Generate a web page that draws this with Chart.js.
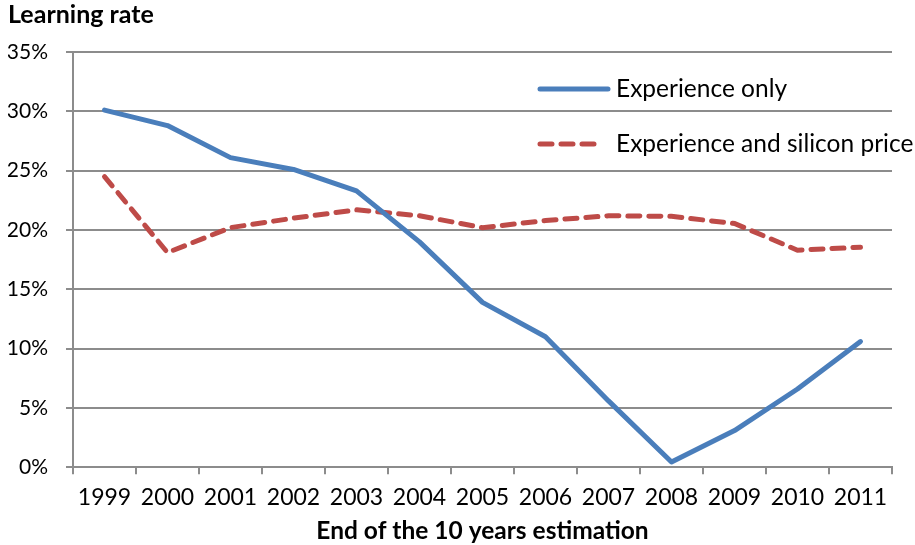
<!DOCTYPE html>
<html>
<head>
<meta charset="utf-8">
<script src="https://cdn.jsdelivr.net/npm/chart.js@4"></script>
<style>
  html, body { margin: 0; padding: 0; background: #fff; }
  #wrap { width: 915px; height: 545px; position: relative; }
</style>
</head>
<body>
<div id="wrap"><canvas id="myChart"></canvas></div>
<script>
const years = ["1999", "2000", "2001", "2002", "2003", "2004", "2005", "2006", "2007", "2008", "2009", "2010", "2011"];
const experienceOnly = [30.1, 28.8, 26.1, 25.1, 23.3, 19.0, 13.9, 11.0, 5.6, 0.45, 3.1, 6.6, 10.6];
const experienceSilicon = [24.5, 18.1, 20.2, 21.0, 21.7, 21.2, 20.2, 20.8, 21.2, 21.15, 20.55, 18.3, 18.55];
const seriesNames = ["Experience only", "Experience and silicon price"];

const FONT = "Lato, 'Liberation Sans', sans-serif";
const GRID = "#8c8c8c";

// legend drawn inside the plot, top right
const insideLegend = {
  id: "insideLegend",
  afterDraw(chart) {
    const ctx = chart.ctx;
    const rows = [89, 144];
    ctx.save();
    chart.data.datasets.forEach((ds, i) => {
      const y = rows[i];
      ctx.strokeStyle = ds.borderColor;
      ctx.lineWidth = ds.borderWidth;
      ctx.lineCap = "round";
      ctx.setLineDash(ds.borderDash || []);
      ctx.beginPath();
      ctx.moveTo(540, y);
      ctx.lineTo(i ? 600 : 608, y);
      ctx.stroke();
      ctx.setLineDash([]);
      ctx.fillStyle = "#000";
      ctx.font = "24.5px " + FONT;
      ctx.textBaseline = "middle";
      ctx.fillText(ds.label, 616, y);
    });
    ctx.restore();
  },
};

new Chart(document.getElementById("myChart"), {
  type: "line",
  data: {
    labels: years,
    datasets: [
      {
        label: seriesNames[0],
        data: experienceOnly,
        borderColor: "#4A7EBB",
        borderWidth: 5,
        pointRadius: 0,
        tension: 0,
        borderCapStyle: "round",
        borderJoinStyle: "round",
      },
      {
        label: seriesNames[1],
        data: experienceSilicon,
        borderColor: "#BE4B48",
        borderWidth: 5,
        borderDash: [12, 9],
        borderCapStyle: "round",
        pointRadius: 0,
        tension: 0,
      },
    ],
  },
  options: {
    responsive: true,
    maintainAspectRatio: false,
    animation: false,
    layout: { padding: { left: 8, right: 23, top: 0, bottom: 3 } },
    plugins: {
      legend: { display: false },
      tooltip: { enabled: false },
      title: {
        display: true,
        text: "Learning rate",
        align: "start",
        color: "#000",
        font: { family: FONT, size: 25, weight: "bold" },
        padding: { top: 0, bottom: 22 },
      },
    },
    scales: {
      x: {
        offset: true,
        grid: {
          offset: true,
          drawOnChartArea: false,
          drawTicks: true,
          tickLength: 7,
          color: GRID,
          lineWidth: 2,
        },
        border: { color: GRID, width: 2 },
        ticks: { color: "#000", font: { family: FONT, size: 23 }, padding: 9, maxRotation: 0 },
        title: {
          display: true,
          text: "End of the 10 years estimation",
          color: "#000",
          font: { family: FONT, size: 24.5, weight: "bold", lineHeight: 0.9 },
          padding: { top: 0, bottom: 0 },
        },
      },
      y: {
        min: 0,
        max: 35,
        grid: { color: GRID, lineWidth: 2, tickLength: 7 },
        border: { color: GRID, width: 2 },
        ticks: {
          stepSize: 5,
          color: "#000",
          font: { family: FONT, size: 21 },
          padding: 18,
          callback: (v) => v + "%",
        },
        afterFit(scale) { scale.width = 65; },
      },
    },
  },
  plugins: [insideLegend],
});
</script>
</body>
</html>
